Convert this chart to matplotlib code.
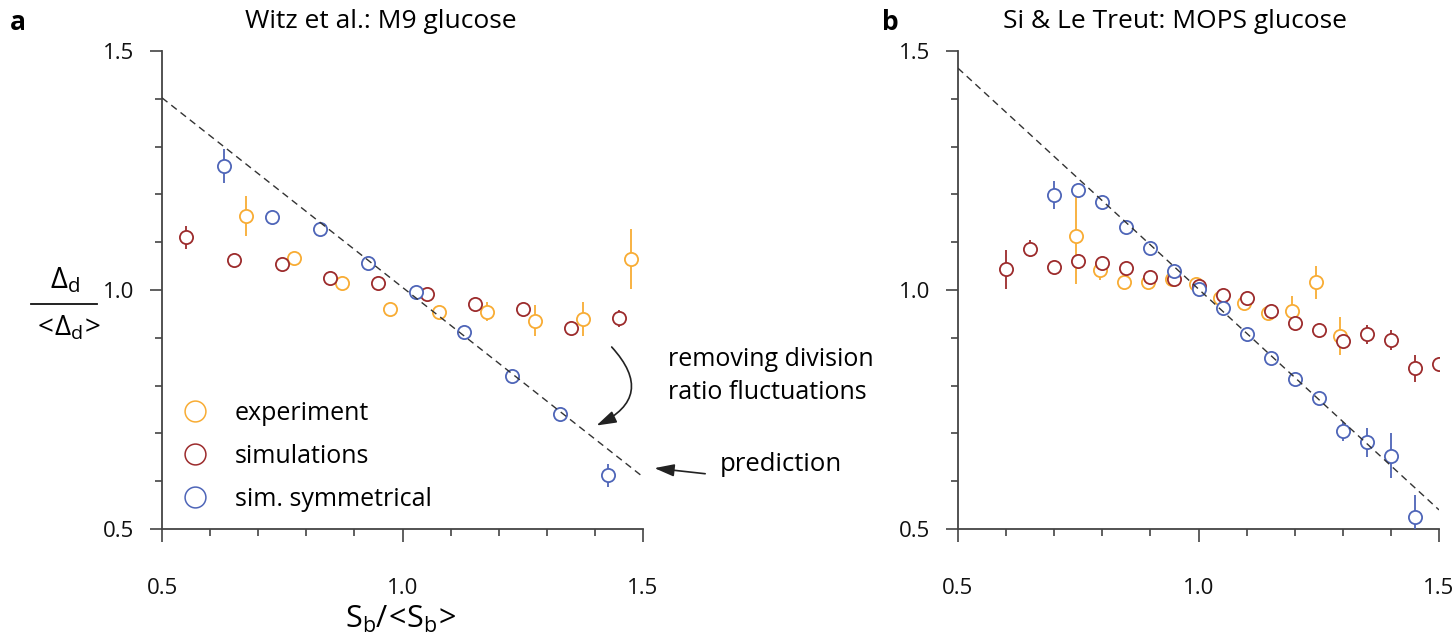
import matplotlib
matplotlib.use('Agg')
import matplotlib.pyplot as plt
from matplotlib.patches import FancyArrowPatch
from matplotlib.lines import Line2D
import numpy as np

plt.rcParams['font.family'] = ['Open Sans', 'DejaVu Sans']

# ---------------- data ----------------
# panel a : Witz et al., M9 glucose
xa_exp = [0.675, 0.775, 0.875, 0.975, 1.075, 1.175, 1.275, 1.375, 1.475]
ya_exp = [1.155, 1.067, 1.015, 0.960, 0.955, 0.955, 0.936, 0.939, 1.065]
ea_exp = [0.042, 0.006, 0.005, 0.006, 0.008, 0.020, 0.033, 0.036, 0.062]

xa_sim = [0.55, 0.65, 0.75, 0.85, 0.95, 1.05, 1.15, 1.25, 1.35, 1.45]
ya_sim = [1.110, 1.063, 1.054, 1.025, 1.015, 0.992, 0.971, 0.960, 0.920, 0.941]
ea_sim = [0.024, 0.004, 0.004, 0.004, 0.004, 0.004, 0.004, 0.004, 0.005, 0.018]

xa_sym = [0.628, 0.728, 0.828, 0.928, 1.028, 1.128, 1.228, 1.328, 1.428]
ya_sym = [1.259, 1.153, 1.128, 1.056, 0.996, 0.913, 0.821, 0.741, 0.612]
ea_sym = [0.035, 0.004, 0.004, 0.004, 0.004, 0.004, 0.004, 0.006, 0.024]

pred_x = [0.5, 1.5]
pred_a = [1.402, 0.609]

# panel b : Si & Le Treut, MOPS glucose
xb_exp = [0.745, 0.795, 0.845, 0.895, 0.945, 0.995, 1.045, 1.095, 1.145, 1.195, 1.245, 1.295]
yb_exp = [1.113, 1.042, 1.016, 1.017, 1.023, 1.012, 0.983, 0.972, 0.951, 0.957, 1.016, 0.904]
eb_exp = [0.100, 0.022, 0.010, 0.010, 0.008, 0.008, 0.008, 0.010, 0.012, 0.030, 0.035, 0.040]

xb_sim = [0.60, 0.65, 0.70, 0.75, 0.80, 0.85, 0.90, 0.95, 1.00, 1.05,
          1.10, 1.15, 1.20, 1.25, 1.30, 1.35, 1.40, 1.45, 1.50]
yb_sim = [1.043, 1.086, 1.049, 1.061, 1.057, 1.045, 1.028, 1.024, 1.008, 0.990,
          0.983, 0.957, 0.930, 0.916, 0.894, 0.907, 0.895, 0.836, 0.845]
eb_sim = [0.040, 0.018, 0.005, 0.005, 0.005, 0.005, 0.005, 0.005, 0.005, 0.005,
          0.005, 0.005, 0.005, 0.005, 0.008, 0.019, 0.021, 0.028, 0.010]

xb_sym = [0.70, 0.75, 0.80, 0.85, 0.90, 0.95, 1.00, 1.05,
          1.10, 1.15, 1.20, 1.25, 1.30, 1.35, 1.40, 1.45]
yb_sym = [1.198, 1.209, 1.185, 1.132, 1.088, 1.039, 1.003, 0.963,
          0.907, 0.858, 0.813, 0.775, 0.704, 0.681, 0.653, 0.525]
eb_sym = [0.029, 0.005, 0.005, 0.005, 0.005, 0.005, 0.005, 0.005,
          0.005, 0.005, 0.005, 0.005, 0.019, 0.031, 0.047, 0.047]

pred_b = [1.464, 0.540]

ticks_major = [0.5, 1.0, 1.5]
tick_labels = ['0.5', '1.0', '1.5']
ticks_minor = [0.6, 0.7, 0.8, 0.9, 1.1, 1.2, 1.3, 1.4]

labels = ['experiment', 'simulations', 'sim. symmetrical']
C_EXP = '#F8AC34'
C_SIM = '#9C2B2C'
C_SYM = '#4E65B8'
AX_C = '#444444'

W, H = 1452, 639
fig = plt.figure(figsize=(W / 100, H / 100), dpi=100)
axA = fig.add_axes([162 / W, 110 / H, 481 / W, 478 / H])
axB = fig.add_axes([958 / W, 110 / H, 481 / W, 478 / H])


def style(ax):
    ax.set_xlim(0.5, 1.5)
    ax.set_ylim(0.5, 1.5)
    for s in ['top', 'right']:
        ax.spines[s].set_visible(False)
    for s in ['left', 'bottom']:
        ax.spines[s].set_color(AX_C)
        ax.spines[s].set_linewidth(1.3)
    ax.set_xticks(ticks_major)
    ax.set_xticklabels(tick_labels)
    ax.set_yticks(ticks_major)
    ax.set_yticklabels(tick_labels)
    ax.set_xticks(ticks_minor, minor=True)
    ax.set_yticks(ticks_minor, minor=True)
    ax.tick_params(which='major', length=9, width=1.2, color=AX_C, labelsize=16,
                   direction='out', labelcolor='#111111')
    ax.tick_params(which='minor', length=5, width=1.2, color=AX_C, direction='out')
    ax.tick_params(axis='x', which='major', pad=26)
    ax.tick_params(axis='y', which='major', pad=11)


def series(ax, x, y, e, c, z):
    ax.errorbar(x, y, yerr=e, fmt='o', ms=9.5, mfc='white', mec=c, mew=1.3,
                ecolor=c, elinewidth=1.3, capsize=0, zorder=z)


for ax in (axA, axB):
    style(ax)

series(axA, xa_exp, ya_exp, ea_exp, C_EXP, 3)
series(axA, xa_sim, ya_sim, ea_sim, C_SIM, 4)
series(axA, xa_sym, ya_sym, ea_sym, C_SYM, 5)
axA.plot(pred_x, pred_a, ls=(0, (5, 3.5)), color='#333333', lw=1.0, zorder=10)

series(axB, xb_exp, yb_exp, eb_exp, C_EXP, 3)
series(axB, xb_sim, yb_sim, eb_sim, C_SIM, 4)
series(axB, xb_sym, yb_sym, eb_sym, C_SYM, 5)
axB.plot(pred_x, pred_b, ls=(0, (5, 3.5)), color='#333333', lw=1.0, zorder=10)

# legend
handles = [Line2D([], [], ls='none', marker='o', ms=15, mfc='white', mec=c, mew=1.1)
           for c in (C_EXP, C_SIM, C_SYM)]
axA.legend(handles, labels, loc='upper left', bbox_to_anchor=(0.037, 0.268),
           frameon=False, fontsize=18, handletextpad=1.0, labelspacing=0.72,
           borderaxespad=0, borderpad=0, handlelength=1.2)

# annotations
arr1 = FancyArrowPatch((1.431, 0.885), (1.398, 0.714), transform=axA.transData,
                       connectionstyle='arc3,rad=-0.7',
                       arrowstyle='-|>,head_length=0.8,head_width=0.25',
                       mutation_scale=15, lw=1.2, color='#222222', clip_on=False)
axA.add_patch(arr1)
arr2 = FancyArrowPatch((1.635, 0.615), (1.518, 0.628), transform=axA.transData,
                       arrowstyle='-|>,head_length=0.8,head_width=0.25',
                       mutation_scale=15, lw=1.2, color='#222222', clip_on=False)
axA.add_patch(arr2)
axA.text(1.552, 0.820, 'removing division\nratio fluctuations', fontsize=18,
         ha='left', va='center', linespacing=1.38, clip_on=False)
axA.text(1.660, 0.634, 'prediction', fontsize=18.5, ha='left', va='center', clip_on=False)

# titles & panel letters
fig.text(381 / W, 1 - 22 / H, 'Witz et al.: M9 glucose', ha='center', va='center', fontsize=19)
fig.text(1175 / W, 1 - 22 / H, 'Si & Le Treut: MOPS glucose', ha='center', va='center', fontsize=19)
fig.text(10 / W, 1 - 22 / H, 'a', ha='left', va='center', fontsize=19, fontweight='bold')
fig.text(882 / W, 1 - 22 / H, 'b', ha='left', va='center', fontsize=19, fontweight='bold')

# axis labels
fig.text(65 / W, 1 - 280 / H, r'$\mathregular{Δ_d}$', ha='center', va='center', fontsize=21)
fig.add_artist(Line2D([31 / W, 97 / W], [1 - 304 / H, 1 - 304 / H], color='#111111', lw=1.3))
fig.text(66 / W, 1 - 328 / H, r'$\mathregular{<\!Δ_d\!>}$', ha='center', va='center', fontsize=20)
fig.text(401 / W, 1 - 619 / H, r'$\mathregular{S_b/\!<\!S_b\!>}$', ha='center', va='center', fontsize=22)

fig.savefig('out.png', dpi=100)
